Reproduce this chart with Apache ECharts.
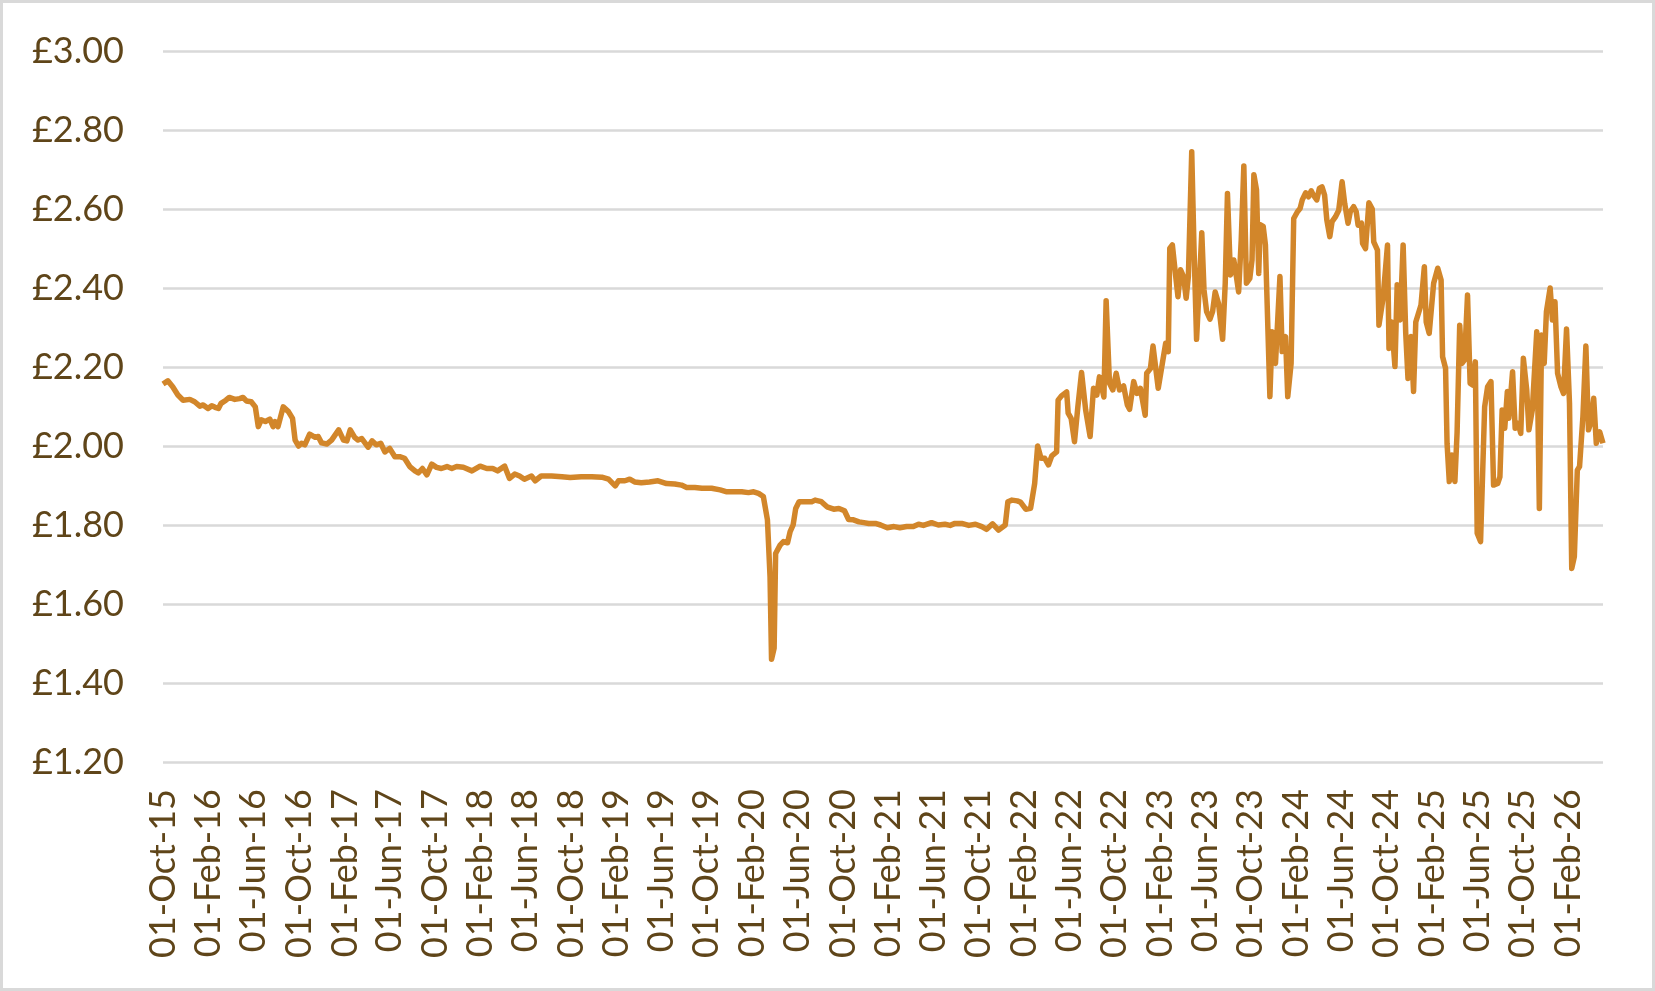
<!DOCTYPE html>
<html>
<head>
<meta charset="utf-8">
<script src="https://cdn.jsdelivr.net/npm/echarts@6/dist/echarts.min.js"></script>
<style>
  html, body { margin: 0; padding: 0; background: #fff; }
  #main { width: 1655px; height: 991px; }
  #frame { position: absolute; left: 0; top: 0; width: 1655px; height: 991px;
           box-sizing: border-box; border: 3px solid #d9d9d9; pointer-events: none; }
</style>
</head>
<body>
<div id="main"></div>
<div id="frame"></div>
<script>
var dates = [
  '2015-10-01','2015-10-14','2015-10-27','2015-11-10','2015-11-24','2015-12-12','2015-12-25',
  '2016-01-08','2016-01-17','2016-01-30','2016-02-09','2016-02-18','2016-02-27','2016-03-05','2016-03-18','2016-03-27',
  '2016-04-11','2016-04-24','2016-05-03','2016-05-12','2016-05-25','2016-06-05','2016-06-13','2016-06-21','2016-07-02',
  '2016-07-14','2016-07-23','2016-07-28','2016-08-05','2016-08-19','2016-09-02','2016-09-13','2016-09-20','2016-09-29',
  '2016-10-07','2016-10-16','2016-10-29','2016-11-13','2016-11-21','2016-11-30','2016-12-14','2016-12-27',
  '2017-01-15','2017-01-28','2017-02-06','2017-02-15','2017-02-27','2017-03-08','2017-03-18','2017-04-04','2017-04-15',
  '2017-04-26','2017-05-08','2017-05-19','2017-06-01','2017-06-15','2017-06-28','2017-07-11','2017-07-25','2017-08-08',
  '2017-08-17','2017-08-28','2017-09-09','2017-09-22','2017-10-05','2017-10-18','2017-11-02','2017-11-15','2017-11-28','2017-12-16',
  '2018-01-08','2018-01-30','2018-02-17','2018-03-05','2018-03-18','2018-04-06','2018-04-19','2018-05-03','2018-05-16',
  '2018-05-29','2018-06-17','2018-06-27','2018-07-13','2018-08-10','2018-09-07','2018-09-29','2018-10-29','2018-11-26','2018-12-23',
  '2019-01-10','2019-01-28','2019-02-06','2019-02-23','2019-03-08','2019-03-21','2019-04-08','2019-04-30','2019-05-23',
  '2019-06-15','2019-07-07','2019-07-25','2019-08-08','2019-08-30','2019-09-18','2019-10-14','2019-11-06','2019-11-24','2019-12-16',
  '2020-01-03','2020-01-21','2020-02-04','2020-02-17','2020-03-01','2020-03-12','2020-03-19','2020-03-23','2020-03-30',
  '2020-04-03','2020-04-15','2020-04-24','2020-05-05','2020-05-12','2020-05-20','2020-05-27','2020-06-05','2020-06-21',
  '2020-07-09','2020-07-18','2020-08-04','2020-08-19','2020-09-06','2020-09-20','2020-10-05','2020-10-16','2020-10-29',
  '2020-11-13','2020-11-26','2020-12-09','2020-12-27',
  '2021-01-10','2021-01-28','2021-02-15','2021-03-03','2021-03-21','2021-04-08','2021-04-22','2021-05-05','2021-05-27',
  '2021-06-14','2021-07-02','2021-07-16','2021-07-29','2021-08-16','2021-09-04','2021-09-22','2021-10-09','2021-10-22',
  '2021-11-07','2021-11-23','2021-12-11','2021-12-18','2021-12-29',
  '2022-01-12','2022-01-21','2022-02-04','2022-02-17','2022-02-28','2022-03-08','2022-03-17','2022-03-27','2022-04-06',
  '2022-04-15','2022-04-28','2022-05-02','2022-05-11','2022-05-25','2022-05-29','2022-06-06','2022-06-15','2022-06-24',
  '2022-07-04','2022-07-15','2022-07-27','2022-08-05','2022-08-14','2022-08-21','2022-09-02','2022-09-08','2022-09-17',
  '2022-09-26','2022-10-05','2022-10-14','2022-10-25','2022-11-04','2022-11-10','2022-11-21','2022-11-30','2022-12-09',
  '2022-12-22','2022-12-26',
  '2023-01-05','2023-01-12','2023-01-26','2023-02-06','2023-02-15','2023-02-22','2023-02-26','2023-03-05','2023-03-14',
  '2023-03-20','2023-03-27','2023-04-04','2023-04-11','2023-04-17','2023-04-26','2023-05-02','2023-05-09','2023-05-17',
  '2023-05-23','2023-05-29','2023-06-05','2023-06-14','2023-06-21','2023-06-28','2023-07-07','2023-07-18','2023-07-25',
  '2023-07-31','2023-08-08','2023-08-17','2023-08-24','2023-08-30','2023-09-06','2023-09-13','2023-09-20','2023-09-29',
  '2023-10-05','2023-10-10','2023-10-17','2023-10-23','2023-10-27','2023-11-04','2023-11-10','2023-11-22','2023-11-28',
  '2023-12-07','2023-12-19','2023-12-25',
  '2024-01-03','2024-01-09','2024-01-18','2024-01-25','2024-02-04','2024-02-11','2024-02-17','2024-02-26','2024-03-05',
  '2024-03-12','2024-03-18','2024-03-27','2024-04-03','2024-04-10','2024-04-17','2024-04-23','2024-05-01','2024-05-07',
  '2024-05-16','2024-05-25','2024-06-03','2024-06-10','2024-06-19','2024-06-25','2024-07-04','2024-07-11','2024-07-16',
  '2024-07-25','2024-07-28','2024-08-05','2024-08-09','2024-08-14','2024-08-23','2024-08-27','2024-09-06','2024-09-10',
  '2024-09-21','2024-10-03','2024-10-07','2024-10-14','2024-10-23','2024-10-29','2024-11-06','2024-11-14','2024-11-21',
  '2024-11-27','2024-12-05','2024-12-12','2024-12-18',
  '2025-01-01','2025-01-10','2025-01-15','2025-01-23','2025-02-04','2025-02-15','2025-02-24','2025-02-28','2025-03-08',
  '2025-03-12','2025-03-18','2025-03-25','2025-04-02','2025-04-08','2025-04-15','2025-04-21','2025-04-28','2025-05-06',
  '2025-05-13','2025-05-20','2025-05-27','2025-06-01','2025-06-10','2025-06-21','2025-06-29','2025-07-08','2025-07-15',
  '2025-07-26','2025-08-01','2025-08-07','2025-08-14','2025-08-21','2025-08-25','2025-09-04','2025-09-11','2025-09-19',
  '2025-09-26','2025-10-03','2025-10-12','2025-10-18','2025-10-27','2025-11-08','2025-11-15','2025-11-21','2025-11-28',
  '2025-12-04','2025-12-14','2025-12-20','2025-12-27',
  '2026-01-03','2026-01-12','2026-01-19','2026-01-27','2026-02-04','2026-02-10','2026-02-17','2026-02-25','2026-03-03',
  '2026-03-12','2026-03-20','2026-03-27','2026-04-03','2026-04-10','2026-04-17','2026-04-26','2026-05-05'
];

var prices = [
  2.157,2.165,2.150,2.129,2.116,2.118,2.112,
  2.101,2.104,2.095,2.102,2.098,2.095,2.108,2.116,2.123,
  2.118,2.120,2.123,2.114,2.112,2.099,2.049,2.066,2.062,
  2.068,2.049,2.062,2.049,2.099,2.087,2.070,2.015,2.000,
  2.007,2.003,2.030,2.022,2.024,2.008,2.005,2.015,
  2.041,2.015,2.013,2.041,2.022,2.015,2.019,1.997,2.013,
  2.003,2.007,1.985,1.994,1.973,1.973,1.969,1.948,1.937,
  1.932,1.943,1.927,1.954,1.946,1.943,1.948,1.943,1.948,1.946,
  1.937,1.949,1.943,1.943,1.937,1.949,1.918,1.929,1.924,
  1.916,1.924,1.912,1.924,1.924,1.922,1.920,1.922,1.922,1.921,
  1.916,1.899,1.912,1.912,1.916,1.909,1.907,1.909,1.912,
  1.905,1.904,1.901,1.895,1.895,1.893,1.893,1.889,1.884,1.884,
  1.884,1.882,1.884,1.880,1.872,1.813,1.669,1.460,1.488,
  1.728,1.749,1.758,1.755,1.783,1.800,1.842,1.859,1.859,
  1.859,1.863,1.859,1.846,1.840,1.842,1.836,1.814,1.813,
  1.808,1.806,1.804,1.804,
  1.800,1.793,1.796,1.793,1.796,1.796,1.802,1.799,1.806,
  1.800,1.802,1.799,1.804,1.804,1.799,1.802,1.796,1.789,
  1.803,1.787,1.800,1.859,1.863,
  1.861,1.858,1.840,1.842,1.905,2.000,1.969,1.969,1.952,
  1.975,1.985,2.116,2.127,2.137,2.083,2.070,2.011,2.099,
  2.186,2.091,2.024,2.146,2.129,2.175,2.124,2.368,2.159,
  2.142,2.184,2.142,2.152,2.104,2.093,2.163,2.133,2.146,
  2.078,2.184,
  2.196,2.253,2.146,2.209,2.260,2.239,2.500,2.509,2.429,
  2.378,2.446,2.429,2.374,2.429,2.745,2.505,2.270,2.420,
  2.540,2.395,2.340,2.321,2.340,2.390,2.361,2.270,2.412,
  2.639,2.433,2.471,2.429,2.390,2.522,2.709,2.412,2.424,
  2.471,2.687,2.649,2.437,2.560,2.556,2.509,2.125,2.289,
  2.209,2.429,2.239,
  2.277,2.125,2.209,2.576,2.593,2.601,2.623,2.641,2.631,
  2.646,2.635,2.623,2.652,2.656,2.635,2.572,2.530,2.568,
  2.580,2.597,2.669,2.614,2.564,2.593,2.606,2.593,2.559,
  2.564,2.513,2.500,2.500,2.616,2.600,2.517,2.496,2.306,
  2.374,2.509,2.247,2.314,2.201,2.408,2.319,2.509,2.285,
  2.171,2.277,2.138,2.314,
  2.357,2.454,2.314,2.285,2.412,2.450,2.420,2.226,2.197,
  2.007,1.910,1.977,1.910,2.035,2.306,2.209,2.218,2.382,
  2.159,2.154,2.213,1.779,1.758,2.099,2.150,2.163,1.901,
  1.905,1.922,2.091,2.045,2.138,2.070,2.188,2.045,2.057,
  2.032,2.222,2.142,2.041,2.091,2.289,1.842,2.281,2.209,
  2.340,2.400,2.319,2.365,
  2.184,2.150,2.133,2.296,2.108,1.690,1.720,1.939,1.948,
  2.074,2.253,2.041,2.061,2.121,2.007,2.036,2.007
];

var monthNames = ['Jan','Feb','Mar','Apr','May','Jun','Jul','Aug','Sep','Oct','Nov','Dec'];
var yTicks = { min: 1.2, max: 3.0, step: 0.2 };

var textColor = '#5f4519';
var lineColor = '#d2862a';
var DAY = 86400000;

var myChart = echarts.init(document.getElementById('main'));

var seriesData = dates.map(function (d, i) {
  return [d, prices[i]];
});

var option = {
  backgroundColor: '#ffffff',
  animation: false,
  grid: {
    left: 163,
    right: 52,
    top: 51,
    bottom: 229,
    containLabel: false,
    outerBoundsMode: 'none'
  },
  xAxis: {
    type: 'time',
    min: dates[0],
    max: dates[dates.length - 1],
    minInterval: 28 * DAY,
    maxInterval: 30 * DAY,
    axisLine: { show: false },
    axisTick: { show: false },
    splitLine: { show: false },
    axisLabel: {
      rotate: 90,
      margin: 27,
      color: textColor,
      fontFamily: 'Lato',
      fontSize: 36,
      hideOverlap: false,
      // only the 1st of Feb / Jun / Oct gets a label, like the source chart
      formatter: function (val) {
        var d = new Date(val);
        if (d.getDate() !== 1 || d.getMonth() % 4 !== 1) return '';
        return '01-' + monthNames[d.getMonth()] + '-' + String(d.getFullYear()).slice(2);
      }
    }
  },
  yAxis: {
    type: 'value',
    min: yTicks.min,
    max: yTicks.max,
    interval: yTicks.step,
    axisLine: { show: false },
    axisTick: { show: false },
    splitLine: { lineStyle: { color: '#d9d9d9', width: 2.5 } },
    axisLabel: {
      margin: 39,
      color: textColor,
      fontFamily: 'Lato',
      fontSize: 36,
      formatter: function (v) {
        return '£' + v.toFixed(2);
      }
    }
  },
  series: [
    {
      name: 'Price',
      type: 'line',
      data: seriesData,
      showSymbol: false,
      symbol: 'none',
      lineStyle: { color: lineColor, width: 5.5, join: 'round' },
      itemStyle: { color: lineColor }
    }
  ]
};

myChart.setOption(option);
</script>
</body>
</html>
